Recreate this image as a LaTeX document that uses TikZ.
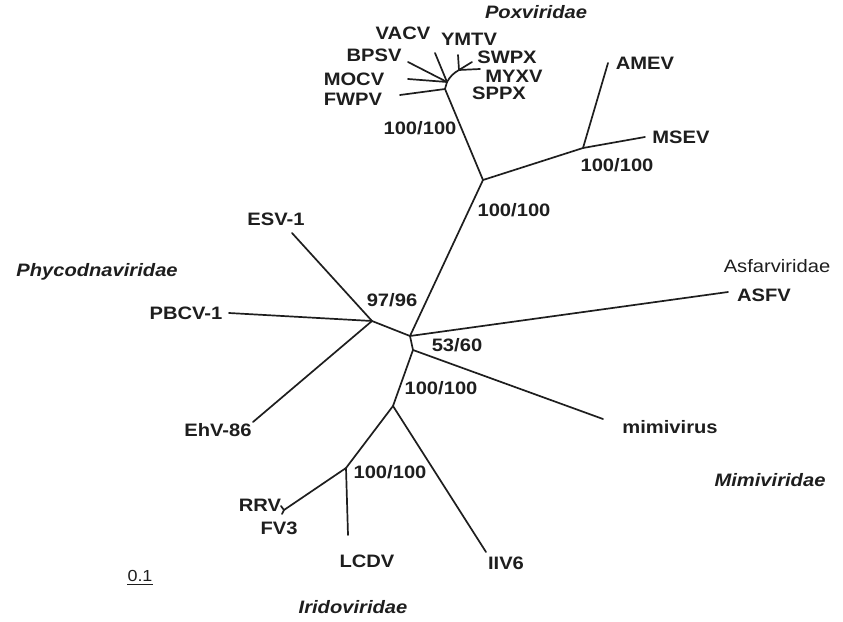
\documentclass[tikz,border=0pt]{standalone}
\usepackage{fontspec}
\setmainfont{Liberation Sans}[FakeStretch=1.12]
\definecolor{ink}{HTML}{1E1E1E}
\tikzset{
  branch/.style={line width=1.7pt, line cap=round, line join=round, draw=ink},
  lab/.style={font=\bfseries\fontsize{18}{20}\selectfont, inner sep=0pt, text=ink},
  fam/.style={font=\bfseries\itshape\fontsize{18}{20}\selectfont, inner sep=0pt, text=ink},
  plain/.style={font=\fontsize{18}{20}\selectfont, inner sep=0pt, text=ink}
}
\begin{document}
\begin{tikzpicture}[x=1pt,y=-1pt]
\useasboundingbox (0,0) rectangle (843,621);
% tree vertices
\coordinate (A) at (483,180);
\coordinate (M) at (583,148);
\coordinate (amev) at (608,63);
\coordinate (msev) at (645,137);
\coordinate (P0) at (445,89);
\coordinate (P1) at (447,82);
\coordinate (P2) at (459,70);
\coordinate (fwpv) at (400,95);
\coordinate (bpsv) at (408,62);
\coordinate (mocv) at (408,79);
\coordinate (vacv) at (435,53);
\coordinate (ymtv) at (458,55);
\coordinate (swpx) at (472,62);
\coordinate (myxv) at (480,69);
\coordinate (C1) at (410,336);
\coordinate (C2) at (413,350);
\coordinate (asfv) at (728,292);
\coordinate (F) at (372,321);
\coordinate (esv) at (292,233);
\coordinate (pbcv) at (229,313);
\coordinate (ehv) at (253,422);
\coordinate (mimi) at (603,419);
\coordinate (I1) at (393,406);
\coordinate (iiv) at (486,552);
\coordinate (I2) at (346,468);
\coordinate (R) at (284,510);
\coordinate (rrv) at (281,506);
\coordinate (fv3) at (282,514);
\coordinate (lcdv) at (348,535);
% branches
\draw[branch] (C1) -- (A) -- (M) -- (amev);
\draw[branch] (M) -- (msev);
\draw[branch] (A) -- (P0) -- (fwpv);
\draw[branch] (P0) -- (P1) -- (bpsv);
\draw[branch] (P1) -- (mocv);
\draw[branch] (P1) -- (vacv);
\draw[branch] (P1) to[bend left=15] (P2);
\draw[branch] (P2) -- (ymtv);
\draw[branch] (P2) -- (swpx);
\draw[branch] (P2) -- (myxv);
\draw[branch] (C1) -- (asfv);
\draw[branch] (C1) -- (F) -- (esv);
\draw[branch] (F) -- (pbcv);
\draw[branch] (F) -- (ehv);
\draw[branch] (C1) -- (C2) -- (mimi);
\draw[branch] (C2) -- (I1) -- (iiv);
\draw[branch] (I1) -- (I2) -- (R) -- (rrv);
\draw[branch] (R) -- (fv3);
\draw[branch] (I2) -- (lcdv);
% leaf labels
\node[lab] (tVACV) at (403,33) {VACV};
\node[lab] (tYMTV) at (469,39) {YMTV};
\node[lab] (tBPSV) at (374,55) {BPSV};
\node[lab] (tSWPX) at (507,57) {SWPX};
\node[lab] (tMOCV) at (354,79) {MOCV};
\node[lab] (tMYXV) at (514,76) {MYXV};
\node[lab] (tFWPV) at (353,99) {FWPV};
\node[lab] (tSPPX) at (499,93) {SPPX};
\node[lab] (tAMEV) at (645,63) {AMEV};
\node[lab] (tMSEV) at (681,137) {MSEV};
\node[lab] (tESV) at (276,219) {ESV-1};
\node[lab] (tPBCV) at (186,313) {PBCV-1};
\node[lab] (tEHV) at (218,430) {EhV-86};
\node[lab] (tASFV) at (764,295) {ASFV};
\node[lab] (tMIMI) at (670,427) {mimivirus};
\node[lab] (tRRV) at (260,505) {RRV};
\node[lab] (tFV3) at (279,528) {FV3};
\node[lab] (tLCDV) at (367,561) {LCDV};
\node[lab] (tIIV) at (506,563) {IIV6};
% support values
\node[lab] (s1) at (420,128) {100/100};
\node[lab] (s2) at (617,165) {100/100};
\node[lab] (s3) at (514,210) {100/100};
\node[lab] (s4) at (392,300) {97/96};
\node[lab] (s5) at (457,345) {53/60};
\node[lab] (s6) at (441,388) {100/100};
\node[lab] (s7) at (390,472) {100/100};
% families
\node[fam] (fPox) at (536,12) {Poxviridae};
\node[fam] (fPhy) at (97,272) {Phycodnaviridae};
\node[plain] (fAsf) at (777,266) {Asfarviridae};
\node[fam] (fMim) at (770,480) {Mimiviridae};
\node[fam] (fIri) at (353,607) {Iridoviridae};
% scale bar
\node[plain, font=\fontsize{16}{18}\selectfont] (scl) at (140,576) {0.1};
\draw[line width=1pt, draw=ink] ([yshift=-3pt]scl.south west) -- ([yshift=-3pt]scl.south east);
\end{tikzpicture}
\end{document}
